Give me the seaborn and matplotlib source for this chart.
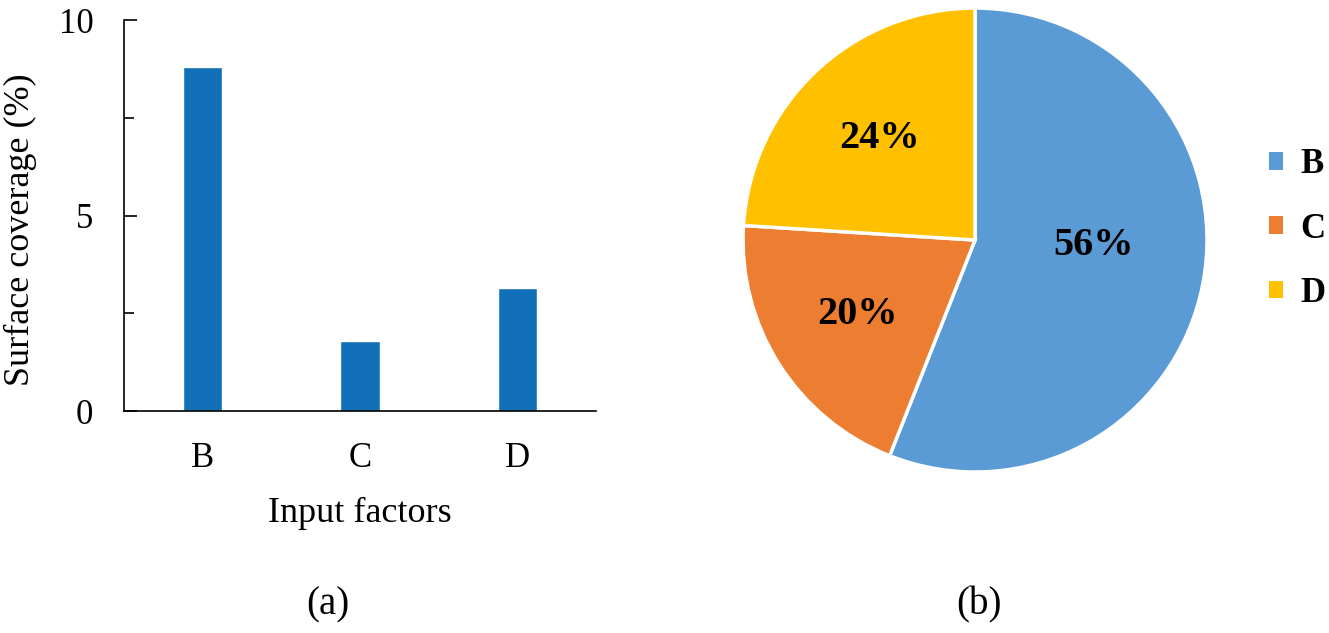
import matplotlib
matplotlib.use("Agg")
import matplotlib.pyplot as plt
import seaborn as sns
import pandas as pd
import numpy as np
from matplotlib.patches import Patch

# Data
factors = ["B", "C", "D"]
coverage = [8.8, 1.8, 3.15]
shares = [56, 20, 24]
pie_colors = ["#5B9BD5", "#ED7D31", "#FFC000"]
bar_color = "#1170B8"

sns.set_theme(style="white")
plt.rcParams["font.family"] = ["Liberation Serif", "DejaVu Serif"]
plt.rcParams["text.color"] = "black"
plt.rcParams["axes.labelcolor"] = "black"
plt.rcParams["xtick.color"] = "black"
plt.rcParams["ytick.color"] = "black"

fig = plt.figure(figsize=(13.29, 6.33), dpi=100)

#%%
# (a) bar chart
ax1 = fig.add_axes([0.0933, 0.3507, 0.3552, 0.6177])
df = pd.DataFrame({"factor": factors, "coverage": coverage})
sns.barplot(data=df, x="factor", y="coverage", color=bar_color, width=0.25,
            saturation=1, ax=ax1)
ax1.set_xlim(-0.5, 2.5)
ax1.set_ylim(0, 10)
ax1.set_yticks([0, 5, 10])
ax1.set_yticks([2.5, 7.5], minor=True)
ax1.tick_params(axis="y", which="major", direction="in", length=9, width=1.2,
                left=True, labelsize=25, pad=22)
ax1.tick_params(axis="y", which="minor", direction="in", length=7, width=1.2,
                left=True)
ax1.tick_params(axis="x", bottom=False, labelsize=25, pad=16)
for s in ["top", "right"]:
    ax1.spines[s].set_visible(False)
for s in ["left", "bottom"]:
    ax1.spines[s].set_color("black")
    ax1.spines[s].set_linewidth(1.2)
ax1.set_xlabel("Input factors", fontsize=26, labelpad=16)
ax1.set_ylabel("Surface coverage (%)", fontsize=26)
ax1.yaxis.set_label_coords(-0.184, 0.465)
fig.text(0.247, 0.044, "(a)", fontsize=28, ha="center", va="center")

#%%
# (b) pie chart
ax2 = fig.add_axes([0.5591, 0.2543, 0.3491, 0.733])
wedges, texts, autotexts = ax2.pie(
    shares, colors=pie_colors, startangle=90, counterclock=False,
    autopct="%d%%", pctdistance=0.6, radius=1,
    wedgeprops=dict(edgecolor="white", linewidth=2.5),
    textprops=dict(fontsize=29, fontweight="bold", color="black"))
# the big slice label sits nearer the centre in the original
ang = np.deg2rad(-2.5)
autotexts[0].set_position((0.51 * np.cos(ang), 0.51 * np.sin(ang)))
ax2.set_xlim(-1, 1)
ax2.set_ylim(-1, 1)
ax2.set_aspect("equal")
handles = [Patch(facecolor=c, edgecolor="none") for c in pie_colors]
leg = fig.legend(handles, factors, loc="center left",
                 bbox_to_anchor=(0.955, 0.638), frameon=False,
                 handlelength=0.4, handleheight=0.4, handletextpad=0.5,
                 labelspacing=0.9, borderaxespad=0, borderpad=0,
                 prop=dict(size=25, weight="bold"))
fig.text(0.737, 0.044, "(b)", fontsize=28, ha="center", va="center")

fig.savefig("out.png", dpi=100)
